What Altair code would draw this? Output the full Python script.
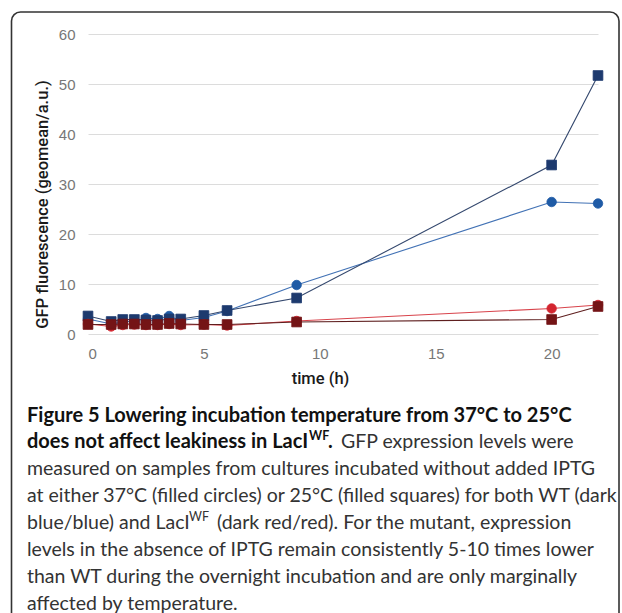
import altair as alt
import pandas as pd

# ---- data ----
time_h = [0, 1, 1.5, 2, 2.5, 3, 3.5, 4, 5, 6, 9, 20, 22]
wt_37 = [3.0, 2.0, 2.4, 2.6, 3.2, 3.0, 3.6, 2.7, 3.3, 4.6, 9.8, 26.4, 26.1]
wt_25 = [3.6, 2.5, 2.9, 2.9, 2.8, 2.7, 3.0, 3.0, 3.7, 4.7, 7.2, 33.8, 51.7]
laci_37 = [2.0, 1.5, 1.8, 1.9, 1.8, 1.8, 2.0, 1.8, 1.9, 1.7, 2.6, 5.1, 5.8]
laci_25 = [1.9, 1.9, 2.0, 2.0, 1.9, 1.9, 2.1, 2.0, 1.9, 1.9, 2.4, 2.9, 5.5]

y_ticks = [0, 10, 20, 30, 40, 50, 60]
x_ticks = [0, 5, 10, 15, 20]

series = [
    ("WT 37°C", wt_37, "circle", "#1f5ba6", "#4272b5"),
    ("WT 25°C", wt_25, "square", "#1d3a6e", "#34486e"),
    ("LacI 37°C", laci_37, "circle", "#d3252f", "#d8434b"),
    ("LacI 25°C", laci_25, "square", "#741416", "#5e1e1e"),
]

caption_lines = [
    "Figure 5 Lowering incubation temperature from 37°C to 25°C",
    "does not affect leakiness in LacI",
    "measured on samples from cultures incubated without added IPTG",
    "at either 37°C (filled circles) or 25°C (filled squares) for both WT (dark",
    "blue/blue) and LacI",
    "levels in the absence of IPTG remain consistently 5-10 times lower",
    "than WT during the overnight incubation and are only marginally",
    "affected by temperature.",
]
caption_extra = {
    "sup": "WF",
    "dot": ".",
    "line2_rest": "GFP expression levels were",
    "line5_rest": "(dark red/red). For the mutant, expression",
}

# ---- layout ----
W, H = 510, 300
PL, PT = 88, 34
FONT_CAP = "Lato"
CAP_SIZE = 19.5
BOLD_SIZE = 20

x_scale = alt.Scale(domain=[0, 22], nice=False, zero=False)
y_scale = alt.Scale(domain=[0, 60], nice=False)

x_axis = alt.Axis(values=x_ticks, title="time (h)", grid=False, domain=False, ticks=False,
                  labelPadding=12, labelFontSize=15, labelColor="#777777",
                  labelFont="Liberation Sans",
                  titleFont="Roboto", titleFontSize=16.5, titleFontWeight=500,
                  titleColor="#1a1a1a", titleX=232, titleY=49, titleBaseline="alphabetic",
                  titleAlign="center")
y_axis = alt.Axis(values=y_ticks, title="GFP fluorescence (geomean/a.u.)", grid=True,
                  gridColor="#dcdcdc", gridWidth=1, domain=False, ticks=False,
                  labelPadding=13, labelFontSize=15, labelColor="#777777",
                  labelFont="Liberation Sans",
                  titleFont="Roboto", titleFontSize=16.5, titleFontWeight=500,
                  titleColor="#1a1a1a", titleAngle=-90, titleX=-46, titleY=170,
                  titleBaseline="middle", titleAlign="center")

layers = []

# border box
layers.append(
    alt.Chart(alt.Data(values=[{}])).mark_rect(
        fill="transparent", stroke="#333333", strokeWidth=1.6, cornerRadius=9
    ).encode(
        x=alt.value(11.5 - PL), x2=alt.value(619 - PL),
        y=alt.value(12 - PT), y2=alt.value(700),
    )
)

for name, vals, shape, mcol, lcol in series:
    df = pd.DataFrame({"time": time_h, "value": vals, "series": name})
    xenc = alt.X("time:Q", scale=x_scale, axis=x_axis)
    yenc = alt.Y("value:Q", scale=y_scale, axis=y_axis)
    base = alt.Chart(df)
    layers.append(base.mark_line(color=lcol, strokeWidth=1.1).encode(x=xenc, y=yenc))
    size = 90 if shape == "circle" else 95
    layers.append(base.mark_point(shape=shape, filled=True, fill=mcol, opacity=1,
                                  size=size, stroke=mcol, strokeWidth=0.8).encode(
        x=xenc, y=yenc))


def text_layer(txt, x, y, bold=False, size=None, color=None):
    if size is None:
        size = BOLD_SIZE if bold else CAP_SIZE
    return alt.Chart(alt.Data(values=[{}])).mark_text(
        align="left", baseline="alphabetic", font=FONT_CAP, fontSize=size,
        fontWeight="bold" if bold else "normal",
        color=color or ("#111111" if bold else "#333333"),
    ).encode(x=alt.value(x - PL), y=alt.value(y - PT), text=alt.value(txt))


LEFT = 27
B0, LS = 421.5, 26.9
baselines = [B0 + LS * i for i in range(8)]

layers.append(text_layer(caption_lines[0], LEFT, baselines[0], bold=True))
layers.append(text_layer(caption_lines[1], LEFT, baselines[1], bold=True))
layers.append(text_layer(caption_extra["sup"], 309, baselines[1] - 8, bold=True, size=12.5))
layers.append(text_layer(caption_extra["dot"], 328, baselines[1], bold=True))
layers.append(text_layer(caption_extra["line2_rest"], 341, baselines[1]))
layers.append(text_layer(caption_lines[2], LEFT, baselines[2]))
layers.append(text_layer(caption_lines[3], LEFT, baselines[3]))
layers.append(text_layer(caption_lines[4], LEFT, baselines[4]))
layers.append(text_layer(caption_extra["sup"], 189, baselines[4] - 8, size=12.5))
layers.append(text_layer(caption_extra["line5_rest"], 217, baselines[4]))
layers.append(text_layer(caption_lines[5], LEFT, baselines[5]))
layers.append(text_layer(caption_lines[6], LEFT, baselines[6]))
layers.append(text_layer(caption_lines[7], LEFT, baselines[7]))

chart = alt.layer(*layers).properties(
    width=W, height=H,
    autosize=alt.AutoSizeParams(type="none"),
    padding={"left": PL, "top": PT, "right": 622 - PL - W, "bottom": 613 - PT - H},
    background="white",
).configure_view(stroke=None)

chart.save("out.html", embed_options={"renderer": "svg", "actions": False})
